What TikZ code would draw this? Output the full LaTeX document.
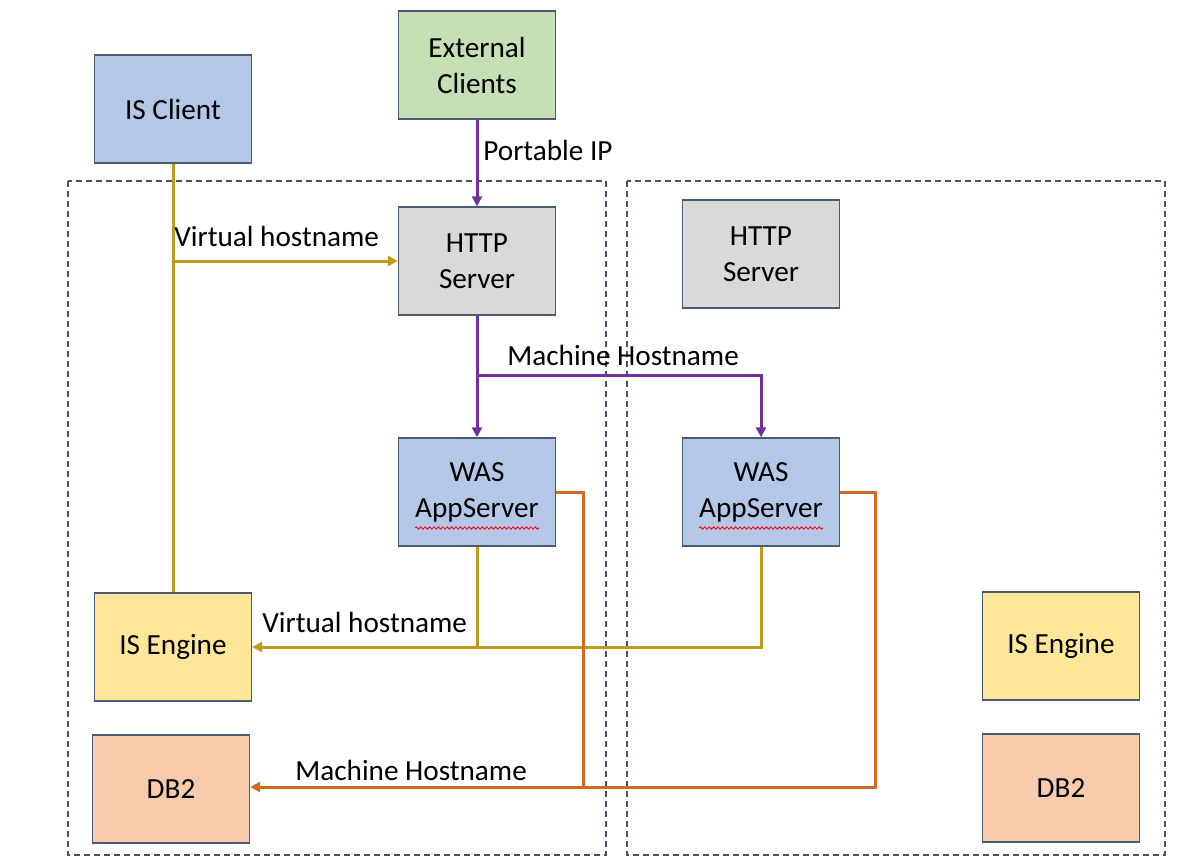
\documentclass[tikz,border=0pt]{standalone}
\usepackage{fontspec}
\setmainfont{Carlito}
\usetikzlibrary{arrows.meta,decorations.pathmorphing,calc}
\definecolor{bxline}{HTML}{4A5A70}
\definecolor{fblue}{HTML}{B4C7E7}
\definecolor{fgreen}{HTML}{C5E0B4}
\definecolor{fgray}{HTML}{D9D9D9}
\definecolor{fyellow}{HTML}{FFE699}
\definecolor{fsalmon}{HTML}{F8CBAD}
\definecolor{cpurple}{HTML}{7030A0}
\definecolor{cgold}{HTML}{C09A1C}
\definecolor{corange}{HTML}{D2691E}
\definecolor{cdash}{HTML}{44546A}
\tikzset{
  box/.style={draw=bxline, line width=0.7pt, rectangle, minimum width=78.5pt, minimum height=54pt,
    align=center, font=\fontsize{14.6}{18}\selectfont, inner sep=2pt},
  conn/.style={line width=1.5pt, -{Triangle[length=5pt,width=5pt]}},
  plain/.style={line width=1.5pt},
  lbl/.style={font=\fontsize{14.6}{18}\selectfont, inner sep=0pt, anchor=west},
  zone/.style={draw=cdash, line width=0.6pt, dash pattern=on 3pt off 2pt},
  squig/.style={draw=red, line width=0.4pt, decorate, decoration={snake, segment length=2.2pt, amplitude=0.6pt}}
}
\begin{document}
\begin{tikzpicture}[x=0.5pt,y=-0.5pt]
\useasboundingbox (0,0) rectangle (1188,863);
% zones
\draw[zone] (68,181) rectangle (606,855);
\draw[zone] (627,181) rectangle (1165,855);
% nodes
\node[box, fill=fblue] (isc) at (173,109) {IS Client};
\node[box, fill=fgreen] (ext) at (477,65) {External\\Clients};
\node[box, fill=fgray] (http1) at (477,261) {HTTP\\Server};
\node[box, fill=fgray] (http2) at (761,254) {HTTP\\Server};
\node[box, fill=fblue] (was1) at (477,492) {WAS\\AppServer};
\node[box, fill=fblue] (was2) at (761,492) {WAS\\AppServer};
\node[box, fill=fyellow] (ise1) at (173,647) {IS Engine};
\node[box, fill=fsalmon] (db1) at (171,789) {DB2};
\node[box, fill=fyellow] (ise2) at (1061,646) {IS Engine};
\node[box, fill=fsalmon] (db2) at (1061,788) {DB2};
% spell-check squiggles
\draw[squig] ($(was1.center)+(-62,36)$) -- ($(was1.center)+(62,36)$);
\draw[squig] ($(was2.center)+(-62,36)$) -- ($(was2.center)+(62,36)$);
% purple
\draw[conn, cpurple] (ext) -- (http1);
\node[lbl] (lpip) at (483,150) {Portable IP};
\coordinate (pj) at (477,375);
\draw[conn, cpurple] (http1) -- (was1);
\draw[conn, cpurple] (pj) -| (was2.north);
\node[lbl] (lmh1) at (507,355) {Machine Hostname};
% gold top
\draw[plain, cgold] (isc.south) -- (ise1.north);
\draw[conn, cgold] (isc.south |- http1.west) -- (http1.west);
\node[lbl] (lvh1) at (174,236) {Virtual hostname};
% gold bottom
\coordinate (gj) at (was1.south |- ise1.east);
\draw[conn, cgold] (was1.south) |- (ise1.east);
\draw[plain, cgold] (was2.south) |- (gj);
\node[lbl] (lvh2) at (262,622) {Virtual hostname};
% orange
\coordinate (oj) at (583,787);
\coordinate (oj2) at (875,787);
\draw[plain, corange] (was1.east) -| (oj);
\draw[conn, corange] (oj) -- (db1.east |- oj);
\draw[plain, corange] (was2.east) -| (oj2) -- (oj);
\node[lbl] (lmh2) at (295,770) {Machine Hostname};
\end{tikzpicture}
\end{document}
